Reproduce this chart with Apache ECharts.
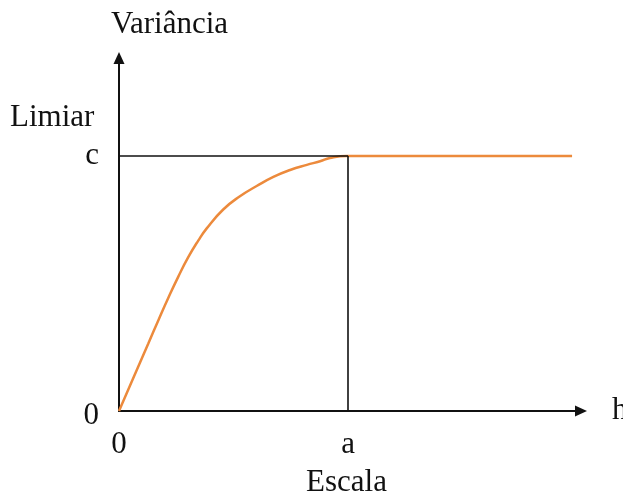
<!DOCTYPE html>
<html>
<head>
<meta charset="utf-8">
<script src="https://cdn.jsdelivr.net/npm/echarts@6/dist/echarts.min.js"></script>
<style>
  html, body { margin: 0; padding: 0; background: #fff; }
  #chart { width: 623px; height: 498px; }
</style>
</head>
<body>
<div id="chart"></div>
<script>
// Semivariogram sketch: variance rises with lag h until the range "a", then levels at the sill "c".
const lagH = [0, 0.070, 0.128, 0.172, 0.215, 0.259, 0.303, 0.346, 0.383, 0.455, 0.528, 0.601, 0.674, 0.747, 0.820, 0.878, 0.921, 0.994, 1.3, 1.6, 1.978];
const variance = [0, 0.145, 0.265, 0.356, 0.443, 0.527, 0.604, 0.668, 0.716, 0.790, 0.842, 0.882, 0.918, 0.945, 0.965, 0.979, 0.992, 1.0, 1.0, 1.0, 1.0];
const xTicks = [0, 1];
const xTickLabels = ['0', 'a'];
const yTicks = [0, 1];
const yTickLabels = ['0', 'c'];
const rangeA = 1;
const sillC = 1;

const font = 'Liberation Serif, Times New Roman, serif';
const ink = '#111';
const fs = 31;

const chart = echarts.init(document.getElementById('chart'), null, { renderer: 'canvas' });
chart.setOption({
  animation: false,
  backgroundColor: '#fff',
  grid: { left: 119, right: 42, top: 58, bottom: 87, containLabel: false, outerBoundsMode: 'none' },
  xAxis: {
    type: 'value', min: 0, max: 2.017,
    name: 'h', nameLocation: 'end', nameGap: 31,
    nameTextStyle: { fontFamily: font, fontSize: fs, color: ink, padding: [0, 0, 10, 0] },
    axisLine: { show: true, symbol: ['none', 'triangle'], symbolSize: [11, 12], lineStyle: { color: ink, width: 2 } },
    axisTick: { show: false },
    splitLine: { show: false },
    axisLabel: {
      customValues: xTicks,
      formatter: v => xTickLabels[xTicks.indexOf(v)] ?? '',
      fontFamily: font, fontSize: fs, color: ink, margin: 18
    }
  },
  yAxis: {
    type: 'value', min: 0, max: 1.384,
    name: 'Variância', nameLocation: 'end', nameGap: 18,
    nameTextStyle: { fontFamily: font, fontSize: fs, color: ink, align: 'left', padding: [0, 0, 0, -8] },
    axisLine: { show: true, symbol: ['none', 'triangle'], symbolSize: [11, 12], lineStyle: { color: ink, width: 2 } },
    axisTick: { show: false },
    splitLine: { show: false },
    axisLabel: {
      customValues: yTicks,
      formatter: v => v === 0 ? '{lo|' + yTickLabels[0] + '}' : yTickLabels[yTicks.indexOf(v)] ?? '',
      fontFamily: font, fontSize: fs, color: ink, margin: 20,
      rich: { lo: { fontFamily: font, fontSize: fs, color: ink, padding: [10, 0, 0, 0] } }
    }
  },
  graphic: [
    { type: 'text', left: 10, top: 102, style: { text: 'Limiar', font: fs + 'px ' + font, fill: ink } },
    { type: 'text', left: 306, top: 467, style: { text: 'Escala', font: fs + 'px ' + font, fill: ink } }
  ],
  series: [{
    type: 'line',
    data: lagH.map((x, i) => [x, variance[i]]),
    smooth: 0.5,
    showSymbol: false,
    lineStyle: { color: '#ec8a3c', width: 2.5 },
    z: 3,
    markLine: {
      silent: true, symbol: 'none', label: { show: false },
      lineStyle: { color: ink, width: 1.6, type: 'solid' },
      data: [
        [{ coord: [0, sillC] }, { coord: [rangeA, sillC] }],
        [{ coord: [rangeA, 0] }, { coord: [rangeA, sillC] }]
      ]
    }
  }]
});
</script>
</body>
</html>
